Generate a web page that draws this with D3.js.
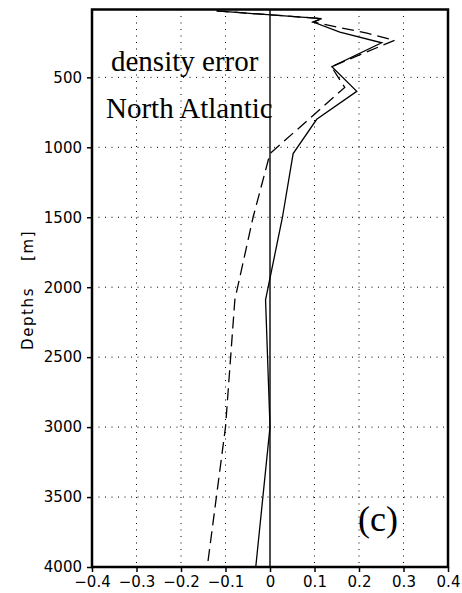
<!DOCTYPE html>
<html lang="en">
<head>
<meta charset="UTF-8">
<title>density error</title>
<script src="https://d3js.org/d3.v7.min.js"></script>
<style>
  body { margin: 0; background: #fff; }
  svg { display: block; }
</style>
</head>
<body>
<svg id="chart"></svg>
<script>
// data
const solidDepth = [25, 80, 105, 176, 253, 424, 600, 800, 1045, 1500, 2090, 3000, 4000];
const solidValue = [-0.12, 0.116, 0.097, 0.157, 0.251, 0.139, 0.195, 0.105, 0.052, 0.028, -0.01, 0.0, -0.032];

const dashDepth = [25, 80, 105, 184, 235, 424, 572, 1045, 1500, 2090, 3000, 4000];
const dashValue = [-0.12, 0.116, 0.097, 0.218, 0.28, 0.138, 0.168, 0.0, -0.038, -0.079, -0.1, -0.141];

const xTicks = [-0.4, -0.3, -0.2, -0.1, 0, 0.1, 0.2, 0.3, 0.4];
const yTicks = [500, 1000, 1500, 2000, 2500, 3000, 3500, 4000];

const width = 462, height = 593;
const margin = {top: 9.5, right: 14, bottom: 26, left: 92};

const svg = d3.select("#chart").attr("width", width).attr("height", height);

const x = d3.scaleLinear().domain([-0.4, 0.4]).range([margin.left, width - margin.right]);
const y = d3.scaleLinear().domain([15, 4000]).range([margin.top, height - margin.bottom]);

const tickFont = "'DejaVu Sans', sans-serif";

// dotted grid
svg.append("g")
    .selectAll("line")
    .data(xTicks.slice(1, -1).filter(d => d !== 0))
    .join("line")
    .attr("x1", d => x(d)).attr("x2", d => x(d))
    .attr("y1", y.range()[0]).attr("y2", y.range()[1])
    .attr("stroke", "#000").attr("stroke-width", 1)
    .attr("stroke-dasharray", "1,5.5");

svg.append("g")
    .selectAll("line")
    .data(yTicks.slice(0, -1))
    .join("line")
    .attr("x1", x.range()[0]).attr("x2", x.range()[1])
    .attr("y1", d => y(d)).attr("y2", d => y(d))
    .attr("stroke", "#000").attr("stroke-width", 1)
    .attr("stroke-dasharray", "1,5.5");

// zero line
svg.append("line")
    .attr("x1", x(0)).attr("x2", x(0))
    .attr("y1", y.range()[0]).attr("y2", y.range()[1])
    .attr("stroke", "#000").attr("stroke-width", 1.4);

// profiles
const line = d3.line().x(d => x(d[1])).y(d => y(d[0]));

svg.append("path")
    .datum(d3.zip(solidDepth, solidValue))
    .attr("d", line)
    .attr("fill", "none").attr("stroke", "#000").attr("stroke-width", 1.3);

svg.append("path")
    .datum(d3.zip(dashDepth, dashValue))
    .attr("d", line)
    .attr("fill", "none").attr("stroke", "#000").attr("stroke-width", 1.3)
    .attr("stroke-dasharray", "12,6");

// axes
const xAxis = svg.append("g")
    .attr("transform", `translate(0,${y.range()[1]})`)
    .call(d3.axisBottom(x).tickValues(xTicks).tickSize(5).tickPadding(4)
        .tickFormat(d => d === 0 ? "0" : d3.format(".1f")(d).replace("-", "\u2212")));

const yAxis = svg.append("g")
    .attr("transform", `translate(${x.range()[0]},0)`)
    .call(d3.axisLeft(y).tickValues(yTicks).tickSize(5).tickPadding(5)
        .tickFormat(d3.format("d")));

[xAxis, yAxis].forEach(g => {
    g.select(".domain").remove();
    g.selectAll("line").attr("stroke", "#000").attr("stroke-width", 1.5);
    g.selectAll("text").attr("fill", "#000")
        .style("font-family", tickFont).style("font-size", "15px");
});

// frame
svg.append("rect")
    .attr("x", x.range()[0]).attr("y", y.range()[0])
    .attr("width", x.range()[1] - x.range()[0])
    .attr("height", y.range()[1] - y.range()[0])
    .attr("fill", "none").attr("stroke", "#000").attr("stroke-width", 2.5);

// y title
svg.append("text")
    .attr("transform", "translate(33,350) rotate(-90)")
    .style("font-family", tickFont).style("font-size", "15px")
    .style("letter-spacing", "1.6px")
    .text("Depths");
svg.append("text")
    .attr("transform", "translate(33,261) rotate(-90)")
    .style("font-family", tickFont).style("font-size", "15px")
    .style("letter-spacing", "1.6px")
    .text("[m]");

// labels in plot
const serif = "'Liberation Serif', 'Times New Roman', serif";
svg.append("text").attr("x", 111).attr("y", 71)
    .style("font-family", serif).style("font-size", "29px")
    .text("density error");
svg.append("text").attr("x", 106).attr("y", 118)
    .style("font-family", serif).style("font-size", "29px")
    .text("North Atlantic");
svg.append("text").attr("x", 358).attr("y", 531)
    .style("font-family", serif).style("font-size", "36px")
    .text("(c)");
</script>
</body>
</html>
